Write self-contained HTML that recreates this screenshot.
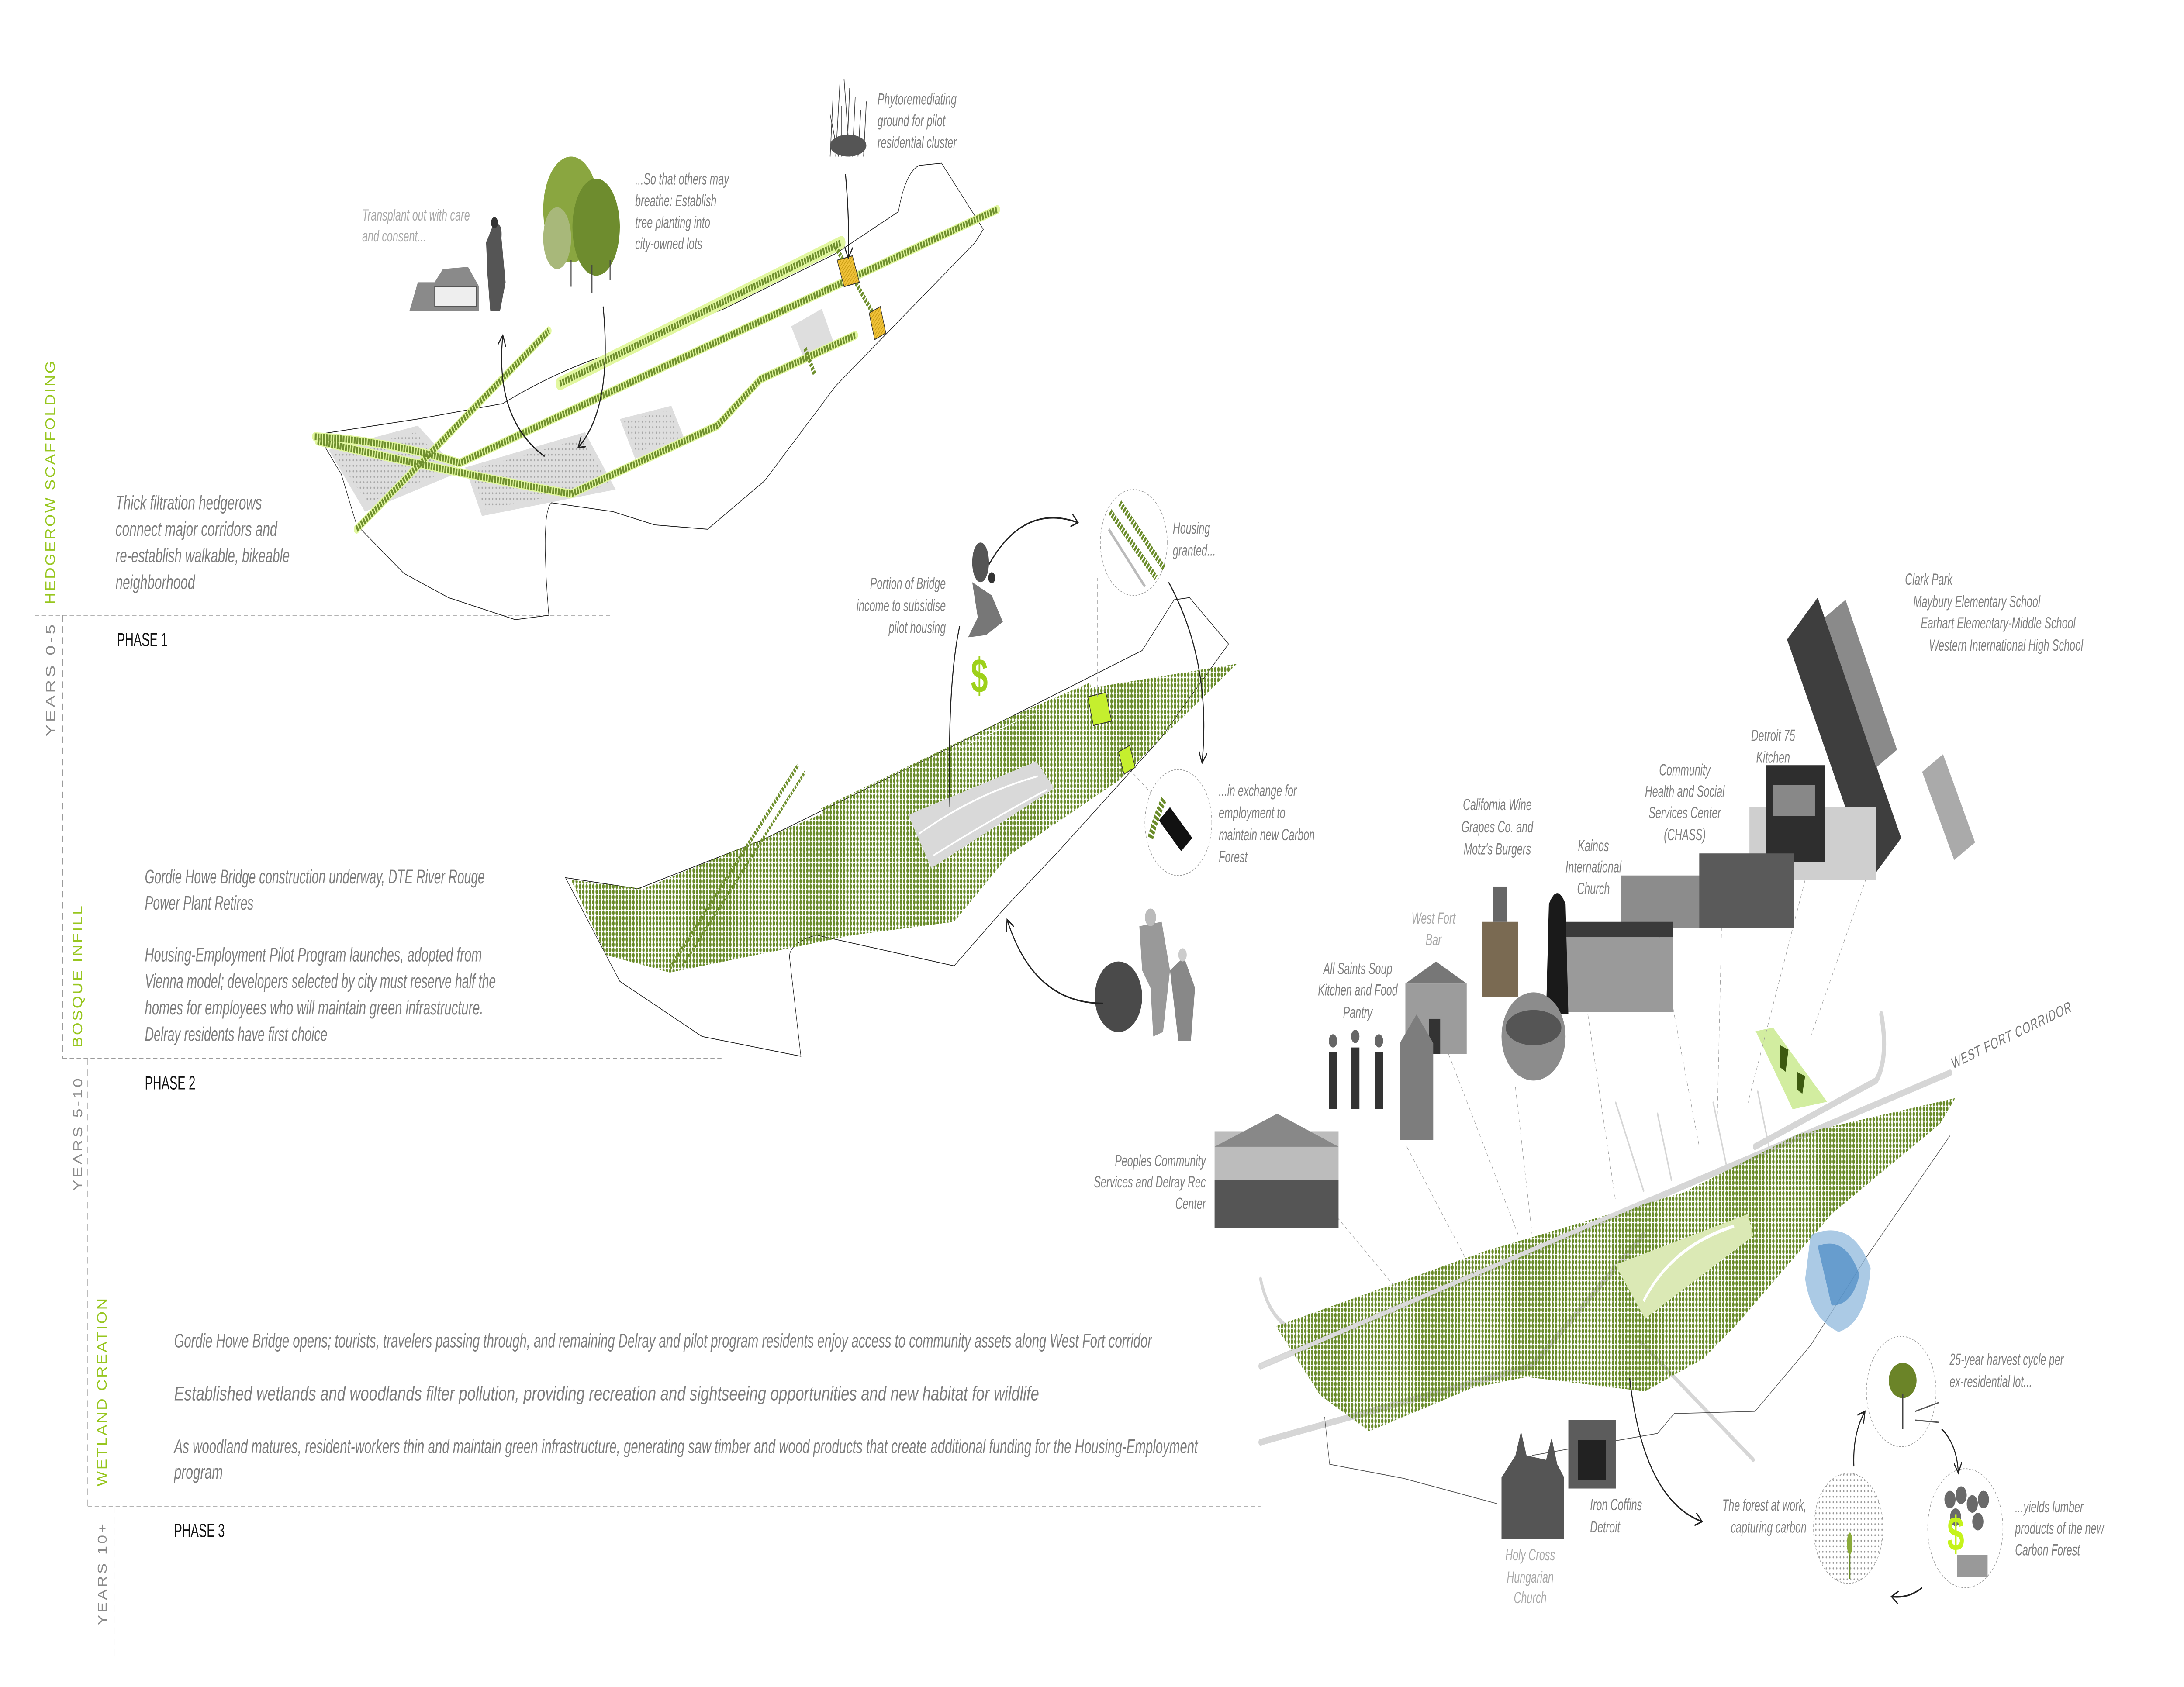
<!DOCTYPE html>
<html><head><meta charset="utf-8"><style>
html,body{margin:0;padding:0;background:#fff;overflow:hidden;width:100vw;height:100vh;}
svg{display:block;width:100vw;height:100vh;}
text{font-family:"Liberation Sans",sans-serif;}
.p{font-style:italic;fill:#7c7c7c;font-size:9px;}
.l{font-style:italic;fill:#7e7e7e;font-size:7.3px;}
.ll{font-style:italic;fill:#a8a8a8;font-size:7.3px;}
.ph{fill:#111;font-size:8.6px;}
.vg{fill:#97c61e;font-size:10px;letter-spacing:1px;}
.vy{fill:#8a8a8a;font-size:9px;letter-spacing:1.2px;}
.d{stroke:#9a9a9a;stroke-width:.35;stroke-dasharray:3 2;fill:none;}
.o{stroke:#222;stroke-width:.35;fill:none;}
.band{stroke:#e2f7a0;stroke-width:6;fill:none;stroke-linecap:round;}
.hr{stroke:#6f8f2e;stroke-width:3;fill:none;stroke-dasharray:1.3 .7;}
.arr{stroke:#222;stroke-width:.7;fill:none;}
.cd{stroke:#999;stroke-width:.35;stroke-dasharray:1.2 1;fill:#fff;}
.lead{stroke:#999;stroke-width:.3;stroke-dasharray:2 1.5;fill:none;}
</style></head><body>
<svg viewBox="0 0 1568 765" preserveAspectRatio="none" xmlns="http://www.w3.org/2000/svg">
<defs>
<pattern id="tr" width="2.4" height="2.4" patternUnits="userSpaceOnUse"><ellipse cx="1.2" cy="1.2" rx=".85" ry="1.15" fill="#688a28"/></pattern>
<pattern id="hatch" width="2" height="2" patternUnits="userSpaceOnUse"><rect width="2" height="2" fill="#f0c23a"/><path d="M0 2L2 0" stroke="#c69a10" stroke-width=".4"/></pattern>
<pattern id="dots" width="2.5" height="2.5" patternUnits="userSpaceOnUse"><circle cx="1.2" cy="1.2" r=".45" fill="#999"/></pattern>
<marker id="ah" markerWidth="6" markerHeight="6" refX="5" refY="3" orient="auto" markerUnits="userSpaceOnUse"><path d="M0 0L5 3L0 6" fill="none" stroke="#222" stroke-width=".7"/></marker>
</defs>

<path class="d" d="M25 25V279M25 279H440M45 279V480M45 480H520M63 480V683M63 683H905M82 683V751"/>
<text class="vg" transform="translate(39.4,274) rotate(-90)" textLength="111" lengthAdjust="spacingAndGlyphs">HEDGEROW SCAFFOLDING</text>
<text class="vy" transform="translate(39.4,334) rotate(-90)" textLength="52" lengthAdjust="spacingAndGlyphs">YEARS 0-5</text>
<text class="vg" transform="translate(59,475) rotate(-90)" textLength="65" lengthAdjust="spacingAndGlyphs">BOSQUE INFILL</text>
<text class="vy" transform="translate(59,540) rotate(-90)" textLength="52" lengthAdjust="spacingAndGlyphs">YEARS 5-10</text>
<text class="vg" transform="translate(76.5,674) rotate(-90)" textLength="86" lengthAdjust="spacingAndGlyphs">WETLAND CREATION</text>
<text class="vy" transform="translate(76.5,737) rotate(-90)" textLength="47" lengthAdjust="spacingAndGlyphs">YEARS 10+</text>

<text class="ph" x="84" y="293">PHASE 1</text>
<text class="ph" x="104" y="494">PHASE 2</text>
<text class="ph" x="125" y="697">PHASE 3</text>

<g class="p">
<text x="83" y="231" textLength="105" lengthAdjust="spacingAndGlyphs">Thick filtration hedgerows</text>
<text x="83" y="243" textLength="116" lengthAdjust="spacingAndGlyphs">connect  major corridors and</text>
<text x="83" y="255" textLength="125" lengthAdjust="spacingAndGlyphs">re-establish walkable, bikeable</text>
<text x="83" y="267" textLength="57" lengthAdjust="spacingAndGlyphs">neighborhood</text>
</g>
<g class="p">
<text x="104" y="400.6" textLength="244" lengthAdjust="spacingAndGlyphs">Gordie Howe Bridge construction underway, DTE River Rouge</text>
<text x="104" y="412.5" textLength="78" lengthAdjust="spacingAndGlyphs">Power Plant Retires</text>
<text x="104" y="436" textLength="242" lengthAdjust="spacingAndGlyphs">Housing-Employment Pilot Program launches, adopted from</text>
<text x="104" y="448" textLength="252" lengthAdjust="spacingAndGlyphs">Vienna model; developers selected by city must reserve half the</text>
<text x="104" y="460" textLength="243" lengthAdjust="spacingAndGlyphs">homes for employees who will maintain green infrastructure.</text>
<text x="104" y="472" textLength="131" lengthAdjust="spacingAndGlyphs">Delray residents have first choice</text>
</g>
<g class="p">
<text x="125" y="611" textLength="702" lengthAdjust="spacingAndGlyphs">Gordie Howe Bridge opens; tourists, travelers passing through, and remaining Delray and pilot program residents enjoy access to community assets along West Fort corridor</text>
<text x="125" y="635" textLength="621" lengthAdjust="spacingAndGlyphs">Established wetlands and woodlands filter pollution, providing recreation and sightseeing opportunities and new habitat for wildlife</text>
<text x="125" y="659" textLength="735" lengthAdjust="spacingAndGlyphs">As woodland matures, resident-workers thin and maintain green infrastructure, generating saw timber and wood products that create additional funding for the Housing-Employment</text>
<text x="125" y="670.5" textLength="35" lengthAdjust="spacingAndGlyphs">program</text>
</g>

<!-- PHASE 1 MAP -->
<path class="o" d="M228 197L300 190L361 183Q400 168 440 160L520 140L600 115L645 96Q650 78 660 75L676 74L706 104L700 110L600 175L549 218L508 240L470 238L440 232L396 228Q388 232 394 279L370 281L322 271L290 260L256 238L245 215Z"/>
<g fill="#dedede">
<path d="M236 204L300 193L330 214L262 232Z"/>
<path d="M334 212L420 196L442 222L346 234Z"/>
<path d="M445 190L482 184L492 200L456 208Z"/>
<path d="M568 148L590 140L600 158L578 164Z"/>
</g>
<g fill="url(#dots)" opacity=".8">
<path d="M240 206L298 196L324 213L264 228Z"/>
<path d="M338 213L418 199L438 220L348 231Z"/>
<path d="M447 191L480 186L489 199L457 205Z"/>
</g>
<g>
<path class="band" d="M402 174L604 110"/>
<path class="band" d="M226 198Q280 200 330 210L716 95" style="stroke-width:4"/>
<path class="band" d="M228 200Q330 215 410 224L515 193L546 172L614 152" style="stroke-width:4"/>
<path class="band" d="M256 240L394 150" style="stroke-width:4"/>
<path class="hr" d="M402 174L604 110"/>
<path class="hr" d="M226 198Q280 200 330 210L716 95"/>
<path class="hr" d="M228 200Q330 215 410 224L515 193L546 172L614 152"/>
<path class="hr" d="M256 240L394 150"/>
<path class="hr" d="M600 112L632 148M578 158L585 170" style="stroke-width:2.5"/>
</g>
<path d="M601 118L612 116L617 128L606 130Z" fill="url(#hatch)" stroke="#333" stroke-width=".4"/>
<path d="M624 142L632 139L636 151L628 154Z" fill="url(#hatch)" stroke="#333" stroke-width=".4"/>
<g>
<path d="M294 141L300 128L312 128L318 122L336 121L344 130L344 141Z" fill="#8a8a8a"/>
<rect x="312" y="130" width="30" height="9" fill="#eee" stroke="#555" stroke-width=".4"/>
<path d="M354 102Q361 100 360 108L363 128L359 141L352 141L350 125L349 110Z" fill="#555"/>
<circle cx="355" cy="101" r="2.5" fill="#333"/>
</g>
<g>
<ellipse cx="410" cy="95" rx="20" ry="24" fill="#8aa640"/>
<ellipse cx="428" cy="103" rx="17" ry="22" fill="#6e8c2e"/>
<ellipse cx="400" cy="108" rx="10" ry="14" fill="#a8b87a"/>
<path d="M410 118V130M425 120V133M438 118V127" stroke="#444" stroke-width=".7"/>
</g>
<g stroke="#444" stroke-width=".5">
<path d="M596 71L598 45M600 71L603 38M604 71L604 48M608 71L610 40M612 71L614 44M616 71L618 50M620 71L622 46M602 71L596 52M610 71L606 36"/>
</g>
<ellipse cx="609" cy="66" rx="13" ry="5" fill="#555"/>
<path class="arr" marker-end="url(#ah)" d="M433 139Q440 185 415 203"/>
<path class="arr" marker-end="url(#ah)" d="M391 207Q355 190 361 152"/>
<path class="arr" marker-end="url(#ah)" d="M607 79Q610 100 609 117"/>
<g class="l">
<text x="456" y="83.7">...So that others may</text>
<text x="456" y="93.5">breathe:  Establish</text>
<text x="456" y="103.3">tree planting into</text>
<text x="456" y="113">city-owned lots</text>
<text x="630" y="47.4">Phytoremediating</text>
<text x="630" y="57.2">ground for pilot</text>
<text x="630" y="67">residential cluster</text>
</g>
<g class="ll">
<text x="260" y="100">Transplant out with care</text>
<text x="260" y="109.5">and consent...</text>
</g>

<!-- PHASE 2 MAP -->
<path class="o" d="M406 398L458 403L547 381L682 339L820 295L843 272L854 271L882 292L833 335L760 386L721 412L685 438L586 424Q565 428 567 435L575 479L504 470L445 445Z"/>
<path d="M410 399L462 403L583 371L724 329L783 312L888 301L803 354L724 388L685 418L613 424L481 441L435 433Z" fill="url(#tr)"/>
<path d="M590 368L724 327L783 311" stroke="url(#tr)" stroke-width="3" fill="none"/>
<path d="M652 369.5L744 345.3L757 357.4L668.6 393.7Z" fill="#d9d9d9"/>
<path d="M660 378Q700 360 745 352M670 388Q710 372 752 358" stroke="#fff" stroke-width=".8" fill="none"/>
<path class="hr" d="M481 439L573 347" style="stroke-width:2"/>
<path class="hr" d="M490 438L578 350" style="stroke-width:1.5"/>
<path d="M781 316L794 314L798 327L785 329Z" fill="#c5ef2e" stroke="#333" stroke-width=".4"/>
<path d="M803 341L811 338L815 348L807 351Z" fill="#c5ef2e" stroke="#333" stroke-width=".4"/>
<path class="lead" d="M788 316V262M811 349L846 373"/>
<circle cx="814" cy="246" r="24" class="cd"/>
<path d="M797 232L830 262M804 228L836 258" stroke="#6b8c2b" stroke-width="3" stroke-dasharray="1.3 .7"/>
<path d="M796 240L822 266" stroke="#bbb" stroke-width="1.5"/>
<circle cx="846" cy="373" r="24" class="cd"/>
<path d="M832 372L848 386L856 380L840 366Z" fill="#111"/>
<path d="M826 380Q830 370 836 362" stroke="#6b8c2b" stroke-width="4" stroke-dasharray="1.5 .8" fill="none"/>
<g fill="#555">
<ellipse cx="704" cy="255" rx="6" ry="9"/>
<path d="M698 264L712 270L720 282L708 288L695 289L702 280Z" fill="#777"/>
<circle cx="712" cy="262" r="2.5" fill="#333"/>
</g>
<text x="697" y="314" font-weight="bold" font-size="22" fill="#9ed11a">$</text>
<g>
<ellipse cx="803" cy="452" rx="17" ry="16" fill="#4a4a4a"/>
<path d="M818 420L834 418L840 440L835 468L828 470L826 448L820 440Z" fill="#999"/>
<circle cx="826" cy="416" r="4" fill="#bbb"/>
<path d="M840 440L850 434L858 448L855 472L846 472Z" fill="#888"/>
<circle cx="849" cy="433" r="3" fill="#ccc"/>
</g>
<path class="arr" marker-end="url(#ah)" d="M710 256Q735 228 774 237"/>
<path class="arr" marker-end="url(#ah)" d="M839 264Q870 300 863 346"/>
<path class="arr" marker-end="url(#ah)" d="M792 455Q742 455 723 417"/>
<path class="arr" d="M682 366Q680 310 689 284"/>
<g class="l">
<text x="679" y="267" text-anchor="end">Portion of Bridge</text>
<text x="679" y="277" text-anchor="end">income to subsidise</text>
<text x="679" y="287" text-anchor="end">pilot housing</text>
<text x="842" y="242">Housing</text>
<text x="842" y="252">granted...</text>
<text x="875" y="361">...in exchange for</text>
<text x="875" y="371">employment to</text>
<text x="875" y="381">maintain new Carbon</text>
<text x="875" y="391">Forest</text>
</g>

<!-- PHASE 3 MAP -->
<g stroke="#d6d6d6" fill="none" stroke-linecap="round">
<path d="M905 619.5L1400 486.5" stroke-width="3"/>
<path d="M905 654L1099.6 619.5L1180 560" stroke-width="3"/>
<path d="M905 580Q910 595 923 601" stroke-width="2"/>
<path d="M1177 608L1258.8 662" stroke-width="2"/>
<path d="M1350.7 460Q1356 480 1347 490L1326.6 497L1260 520" stroke-width="3"/>
<path d="M1180 540L1160 500M1200 535L1190 505M1240 530L1230 500M1270 520L1262 495" stroke-width="1"/>
</g>
<path class="o" d="M951 642.5L954.6 664L1007.7 670.4L1075 681.9M1100 660L1190 650L1202 641L1260 640L1300 610L1340 570L1400 515" style="stroke:#555"/>
<path d="M916 601.4L1067.8 567L1138.5 553.8L1209 540.7L1290.6 514.4L1403.7 498L1393 509.5L1315 550.5L1248 599.8L1223 616L1181 631L1096 624.4L1057 629.4L983 649L947.6 632.6Z" fill="url(#tr)"/>
<path d="M1159.7 573.5L1255 550.5L1258.8 560.4L1181 598Z" fill="#dbe9b5"/>
<path d="M1180 590Q1200 565 1245 556" stroke="#fff" stroke-width="1.5" fill="none"/>
<path d="M1260.5 467.6L1273 466L1311.8 499.6L1287 503Z" fill="#d2eda0"/>
<path d="M1278 474L1284 476L1282 486L1278 484Z M1290 486L1296 488L1294 496L1290 494Z" fill="#3d5a10"/>
<path d="M905 619.5L1180 545" stroke="#dadada" stroke-width="2"/>
<text x="1402" y="484.7" transform="rotate(-17 1402 484.7)" fill="#777" font-size="7" letter-spacing=".5">WEST FORT CORRIDOR</text>
<g class="lead">
<path d="M960 552L1010 590M1010 520L1060 580M1040 478L1090 560M1088 493L1100 560M1140 460L1160 545M1190 420L1220 520M1236 420L1233 505M1296 399L1255 500M1350 380L1300 470"/>
</g>
<g>
<path d="M1283 290L1305 271L1365 380L1343 399Z" fill="#3e3e3e"/>
<path d="M1310 280L1325 272L1362 340L1347 348Z" fill="#8a8a8a"/>
<path d="M1380 350L1395 342L1418 382L1403 390Z" fill="#aaa"/>
<rect x="1256" y="366" width="91" height="33" fill="#cfcfcf"/>
<rect x="1268" y="347" width="42" height="44" fill="#2e2e2e"/>
<rect x="1273" y="356" width="30" height="14" fill="#888"/>
<rect x="1164" y="397" width="124" height="24" fill="#8c8c8c"/>
<rect x="1220" y="387" width="68" height="34" fill="#5a5a5a"/>
<rect x="1124" y="425" width="77" height="34" fill="#9a9a9a"/>
<rect x="1124" y="418" width="77" height="7" fill="#3a3a3a"/>
<path d="M1112 410Q1118 400 1124 410L1126 460L1110 460Z" fill="#1a1a1a"/>
<rect x="1064" y="418" width="26" height="34" fill="#7a6a52"/>
<rect x="1072" y="402" width="10" height="16" fill="#666"/>
<ellipse cx="1101" cy="470" rx="23" ry="20" fill="#8c8c8c"/>
<ellipse cx="1101" cy="466" rx="20" ry="8" fill="#555"/>
<rect x="1009" y="446" width="44" height="32" fill="#9c9c9c"/>
<path d="M1009 446L1031 436L1053 446Z" fill="#777"/>
<rect x="1026" y="462" width="8" height="16" fill="#333"/>
<path d="M1005 473L1017 460L1029 473V517H1005Z" fill="#7d7d7d"/>
<g fill="#333"><rect x="954" y="477" width="6" height="26"/><rect x="970" y="475" width="6" height="28"/><rect x="987" y="477" width="6" height="26"/></g>
<circle cx="957" cy="472" r="3" fill="#666"/><circle cx="973" cy="470" r="3" fill="#666"/><circle cx="990" cy="472" r="3" fill="#666"/>
<rect x="872" y="513" width="89" height="22" fill="#bcbcbc"/>
<path d="M872 520L917 505L961 520Z" fill="#888"/>
<rect x="872" y="535" width="89" height="22" fill="#555"/>
<path d="M1078 670L1088 660L1092 649L1096 660L1110 662L1114 652L1118 664L1123 670V698H1078Z" fill="#555"/>
<rect x="1126" y="644" width="34" height="31" fill="#5c5c5c"/>
<rect x="1133" y="653" width="20" height="18" fill="#222"/>
<path d="M1300 560Q1330 552 1343 575Q1340 600 1320 604Q1300 598 1296 580Z" fill="#8fb8dc" opacity=".75"/>
<path d="M1305 565Q1325 560 1335 578Q1330 592 1315 592Z" fill="#4a8ac4" opacity=".7"/>
</g>
<g class="l">
<text x="1367.7" y="265.2">Clark Park</text>
<text x="1373.6" y="275.3">Maybury Elementary School</text>
<text x="1379" y="285">Earhart Elementary-Middle  School</text>
<text x="1385" y="295.1">Western International High School</text>
<g text-anchor="middle">
<text x="1273" y="336">Detroit 75</text>
<text x="1273" y="345.9">Kitchen</text>
<text x="1209.6" y="351.6">Community</text>
<text x="1209.6" y="361.3">Health and Social</text>
<text x="1209.6" y="371">Services Center</text>
<text x="1209.6" y="381">(CHASS)</text>
<text x="1144" y="386">Kainos</text>
<text x="1144" y="395.6">International</text>
<text x="1144" y="405.4">Church</text>
<text x="1075" y="367.4">California Wine</text>
<text x="1075" y="377.5">Grapes Co. and</text>
<text x="1075" y="387.5">Motz's Burgers</text>
<text x="974.8" y="441.7">All Saints Soup</text>
<text x="974.8" y="451.4">Kitchen and Food</text>
<text x="974.8" y="461.5">Pantry</text>
</g>
<text x="865.7" y="528.8" text-anchor="end">Peoples Community</text>
<text x="865.7" y="538.5" text-anchor="end">Services and Delray Rec</text>
<text x="865.7" y="548.3" text-anchor="end">Center</text>
<text x="1399.7" y="619">25-year harvest cycle per</text>
<text x="1399.7" y="629">ex-residential lot...</text>
<text x="1446.7" y="685.8">...yields lumber</text>
<text x="1446.7" y="695.5">products of the new</text>
<text x="1446.7" y="705.3">Carbon Forest</text>
<text x="1297" y="685" text-anchor="end">The forest at work,</text>
<text x="1297" y="695" text-anchor="end">capturing carbon</text>
<text x="1141.6" y="684.8">Iron Coffins</text>
<text x="1141.6" y="694.9">Detroit</text>
</g>
<g class="ll" text-anchor="middle">
<text x="1029.2" y="418.8">West Fort</text>
<text x="1029.2" y="428.6">Bar</text>
<text x="1098.6" y="707.6">Holy Cross</text>
<text x="1098.6" y="717.7">Hungarian</text>
<text x="1098.6" y="727">Church</text>
</g>
<circle cx="1365" cy="631" r="25" class="cd"/>
<ellipse cx="1366" cy="626" rx="10" ry="8" fill="#6b8428"/>
<path d="M1366 632V648" stroke="#444" stroke-width="1"/>
<path d="M1375 640L1392 636M1375 644L1392 645" stroke="#555" stroke-width=".6"/>
<circle cx="1411" cy="693" r="27" class="cd"/>
<g fill="#6a6a6a"><circle cx="1400" cy="680" r="4"/><circle cx="1408" cy="678" r="4"/><circle cx="1416" cy="682" r="4"/><circle cx="1424" cy="680" r="4"/><circle cx="1404" cy="688" r="4"/><circle cx="1420" cy="690" r="4"/></g>
<rect x="1405" y="705" width="22" height="10" fill="#999"/>
<text x="1398" y="703" font-weight="bold" font-size="22" fill="#c5f31b">$</text>
<circle cx="1327" cy="693" r="25" class="cd" style="fill:url(#dots)"/>
<path d="M1328 695V716" stroke="#6b8c2b" stroke-width="1"/>
<ellipse cx="1328" cy="700" rx="2" ry="5" fill="#8bab3a"/>
<path class="arr" marker-end="url(#ah)" d="M1331 665Q1330 650 1339 640"/>
<path class="arr" marker-end="url(#ah)" d="M1394 648Q1405 655 1406 668"/>
<path class="arr" marker-end="url(#ah)" d="M1380 720Q1370 725 1358 724"/>
<path class="arr" marker-end="url(#ah)" d="M1170 625Q1180 680 1222 690"/>
</svg>
</body></html>
